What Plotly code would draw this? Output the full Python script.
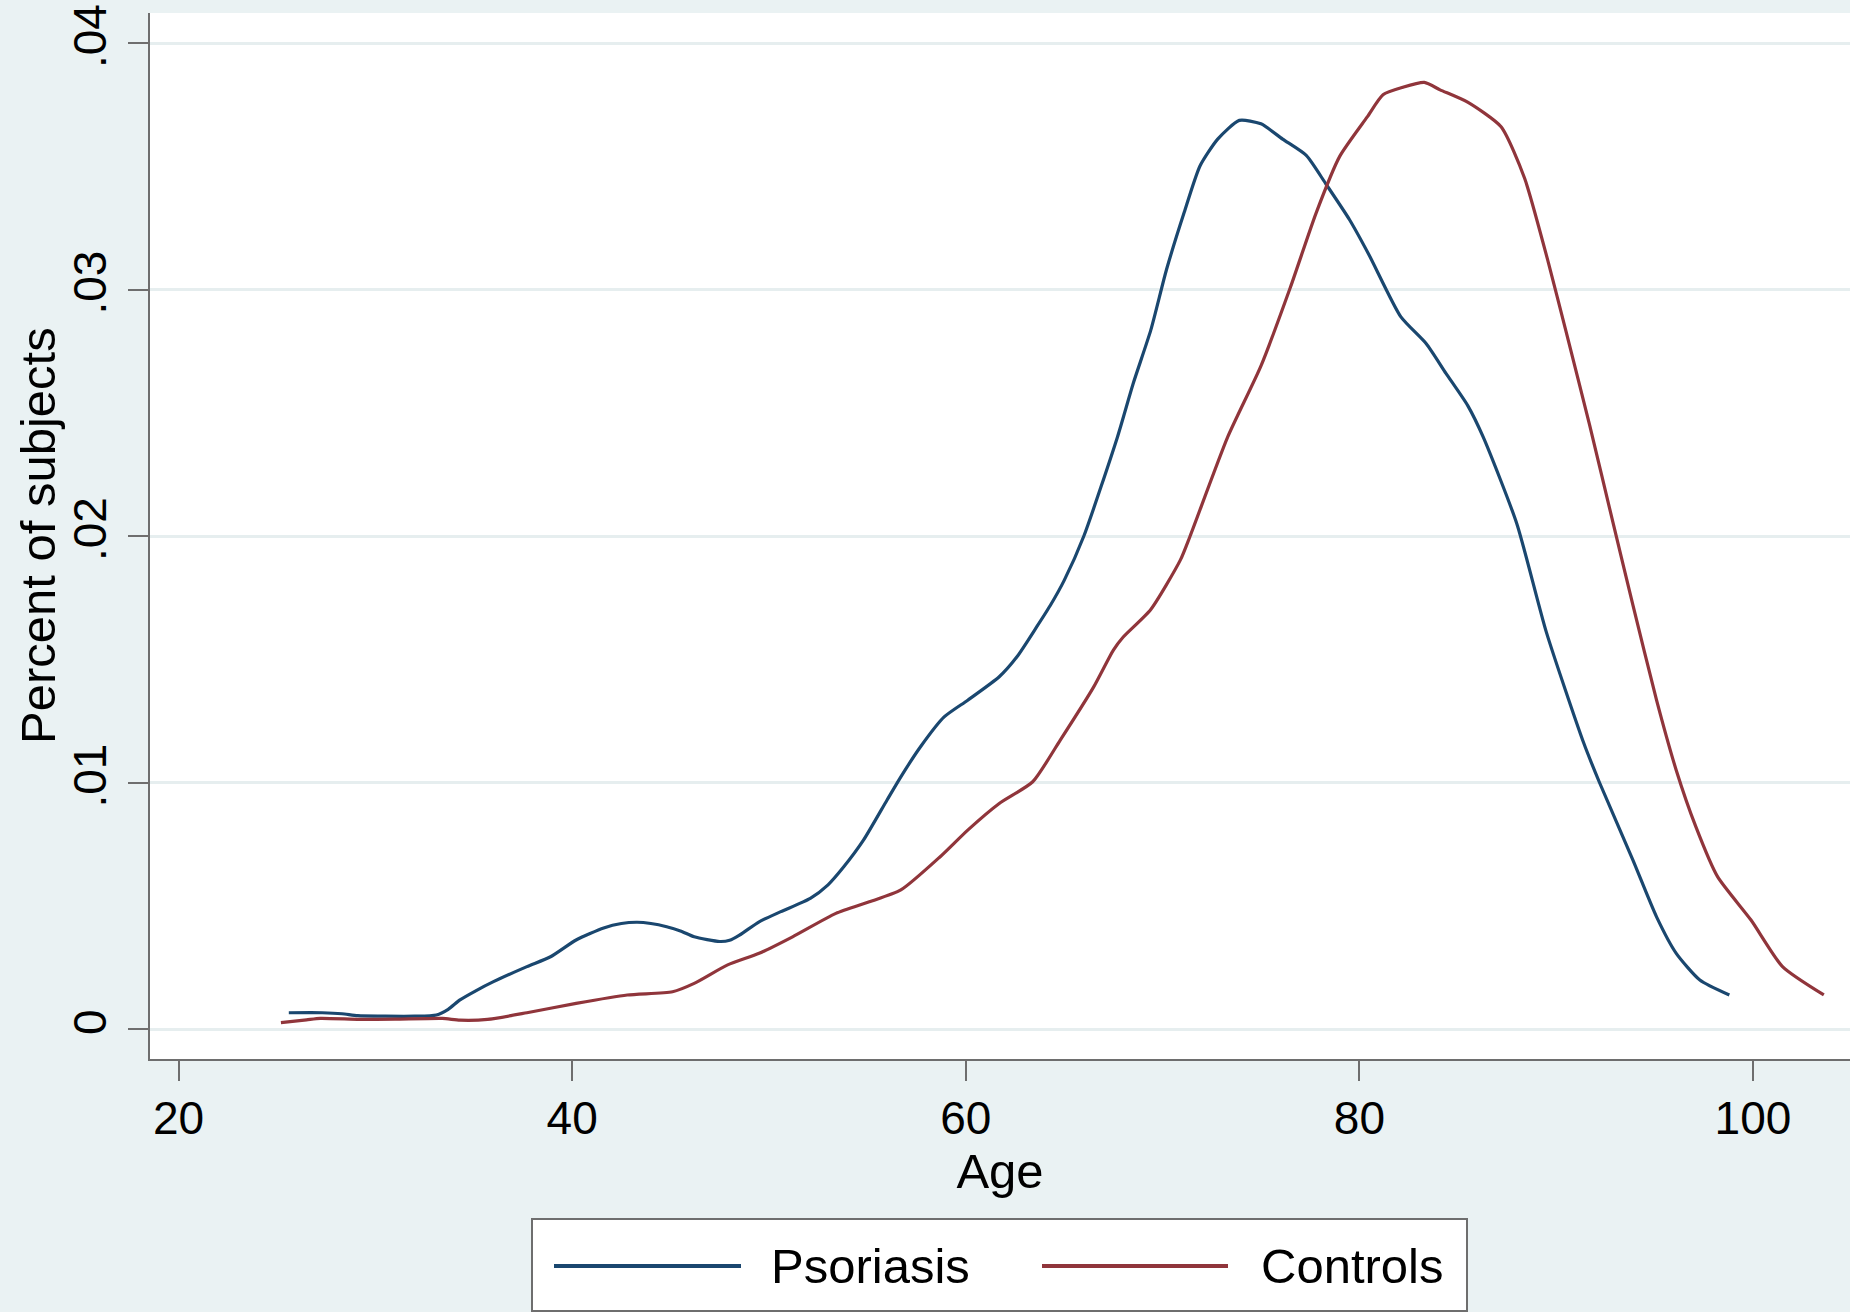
import plotly.graph_objects as go

# ---- data (kernel density of age) ----
psoriasis_age = [25.6, 27.3, 28.3, 29.1, 30.5, 32.0, 33.1, 33.7, 34.3, 35.1, 36.0, 37.7, 38.9,
                 40.2, 41.6, 42.5, 43.3, 44.0, 44.8, 45.5, 46.2, 47.5, 48.0, 48.5, 49.5, 50.6,
                 52.1, 53.0, 53.8, 54.8, 56.0, 56.7, 57.7, 58.9, 60.1, 61.7, 62.6, 63.6, 64.3,
                 65.0, 66.0, 67.7, 68.5, 69.4, 70.2, 71.1, 71.9, 72.8, 73.9, 75.0, 76.1, 77.3,
                 78.3, 79.5, 80.5, 82.1, 83.4, 84.4, 85.5, 86.3, 88.0, 89.5, 91.4, 92.2, 93.9,
                 95.1, 96.1, 97.3, 98.8]
psoriasis_val = [0.00066, 0.00066, 0.00062, 0.00054, 0.00052, 0.00052, 0.00057, 0.00080, 0.00118,
                 0.00155, 0.00192, 0.00253, 0.00293, 0.00361, 0.00410, 0.00428, 0.00433, 0.00428,
                 0.00415, 0.00398, 0.00374, 0.00355, 0.00360, 0.00381, 0.00435, 0.00476, 0.00530,
                 0.00585, 0.00658, 0.00766, 0.00929, 0.01023, 0.01145, 0.01266, 0.01334, 0.01429,
                 0.01510, 0.01631, 0.01719, 0.01820, 0.02000, 0.02400, 0.02617, 0.02835, 0.03081,
                 0.03313, 0.03501, 0.03610, 0.03686, 0.03672, 0.03610, 0.03544, 0.03428, 0.03283,
                 0.03139, 0.02890, 0.02780, 0.02660, 0.02530, 0.02400, 0.02050, 0.01610, 0.01160,
                 0.01000, 0.00685, 0.00455, 0.00307, 0.00199, 0.00138]

controls_age = [25.2, 26.5, 27.2, 29.2, 31.0, 33.4, 34.3, 35.7, 37.7, 40.2, 42.8, 45.1, 46.2,
                47.9, 49.5, 51.2, 53.4, 55.1, 56.7, 58.7, 60.1, 61.7, 63.4, 64.8, 66.5, 67.5,
                68.0, 69.4, 70.9, 71.4, 73.3, 75.0, 76.5, 77.8, 79.0, 80.4, 81.2, 82.2, 83.3,
                84.1, 85.5, 87.2, 88.4, 89.6, 90.5, 91.7, 92.9, 93.9, 95.1, 96.1, 97.1,
                98.2, 99.9, 101.5, 103.6]
controls_val = [0.00026, 0.00037, 0.00043, 0.00039, 0.00040, 0.00043, 0.00036, 0.00039, 0.00066,
                0.00104, 0.00138, 0.00151, 0.00185, 0.00260, 0.00307, 0.00374, 0.00469, 0.00516,
                0.00564, 0.00699, 0.00807, 0.00915, 0.01003, 0.01172, 0.01388, 0.01537, 0.01590,
                0.01702, 0.01902, 0.02000, 0.02400, 0.02690, 0.03010, 0.03310, 0.03540, 0.03700,
                0.03790, 0.03820, 0.03840, 0.03810, 0.03760, 0.03660, 0.03450, 0.03110, 0.02830,
                0.02450, 0.02050, 0.01720, 0.01334, 0.01050, 0.00820, 0.00618, 0.00442,
                0.00253, 0.00138]

x_ticks = [20, 40, 60, 80, 100]
y_ticks = [0, 0.01, 0.02, 0.03, 0.04]
y_tick_labels = ["0", ".01", ".02", ".03", ".04"]
series_names = ["Psoriasis", "Controls"]
series_colors = ["#1A476F", "#90353B"]
x_title = "Age"
y_title = "Percent of subjects"

W, H = 1850, 1312
ML, MR, MT, MB = 150, 0, 13, 253
FONT = "Liberation Sans, Arial, sans-serif"
BG = "#EAF2F3"

fig = go.Figure()
fig.add_trace(go.Scatter(x=psoriasis_age, y=psoriasis_val, mode="lines", name=series_names[0],
                         line=dict(color=series_colors[0], width=3.2, shape="spline", smoothing=0.6),
                         showlegend=False))
fig.add_trace(go.Scatter(x=controls_age, y=controls_val, mode="lines", name=series_names[1],
                         line=dict(color=series_colors[1], width=3.2, shape="spline", smoothing=0.6),
                         showlegend=False))

# pixel -> paper helpers for the legend box and the y title
pw, ph = W - ML - MR, H - MT - MB
def px(x):
    return (x - ML) / pw
def py(y):
    return (H - MB - y) / ph

shapes = [dict(type="rect", xref="paper", yref="paper",
               x0=px(532), x1=px(1467), y0=py(1311), y1=py(1219),
               fillcolor="white", line=dict(color="#6E6E6E", width=2), layer="above")]
legend_items = [(554, 741, 769), (1042, 1228, 1259)]
annotations = []
for (lx0, lx1, tx), name, col in zip(legend_items, series_names, series_colors):
    shapes.append(dict(type="line", xref="paper", yref="paper",
                       x0=px(lx0), x1=px(lx1), y0=py(1266), y1=py(1266),
                       line=dict(color=col, width=4), layer="above"))
    annotations.append(dict(xref="paper", yref="paper", x=px(tx), y=py(1266),
                            xanchor="left", yanchor="middle", showarrow=False,
                            text=name, font=dict(family=FONT, size=49, color="black")))

annotations.append(dict(xref="paper", yref="paper", x=px(38), y=0.5,
                        xanchor="center", yanchor="middle", showarrow=False, textangle=-90,
                        text=y_title, font=dict(family=FONT, size=49, color="black")))

fig.update_layout(
    width=W, height=H,
    margin=dict(l=ML, r=MR, t=MT, b=MB, pad=0),
    paper_bgcolor=BG, plot_bgcolor="white",
    font=dict(family=FONT, color="black"),
    shapes=shapes, annotations=annotations,
    showlegend=False,
    xaxis=dict(range=[18.547, 104.93], tickmode="array", tickvals=x_ticks,
               ticks="outside", ticklen=20, tickwidth=2, tickcolor="#6E6E6E",
               showline=True, linecolor="#6E6E6E", linewidth=2, showgrid=False, zeroline=False,
               tickfont=dict(size=46, family=FONT), ticklabelstandoff=-2,
               title=dict(text=x_title, font=dict(size=49, family=FONT), standoff=0),
               automargin=False),
    yaxis=dict(range=[-0.001217, 0.041217], tickmode="array", tickvals=y_ticks,
               ticktext=y_tick_labels, tickangle=-90,
               ticks="outside", ticklen=20, tickwidth=2, tickcolor="#6E6E6E",
               showline=True, linecolor="#6E6E6E", linewidth=2,
               showgrid=True, gridcolor="#E6EEEF", gridwidth=2.5, zeroline=False,
               tickfont=dict(size=46, family=FONT), ticklabelstandoff=4,
               automargin=False),
)

fig.write_html("out.html",
               config={"displayModeBar": False},
               post_script="document.body.style.margin='0';"
                           "document.documentElement.style.overflow='hidden';")
